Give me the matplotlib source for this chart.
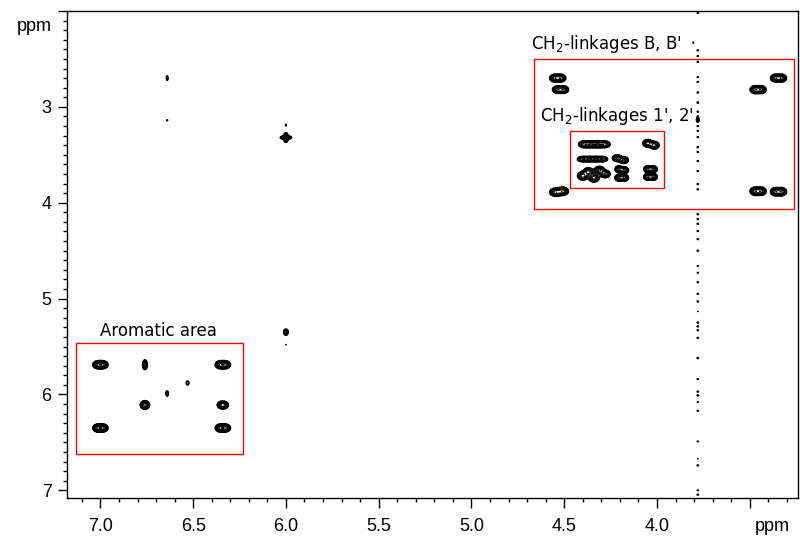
import numpy as np
import matplotlib
matplotlib.use("Agg")
import matplotlib.pyplot as plt
from matplotlib.patches import Rectangle
from matplotlib.ticker import MultipleLocator

# cross peaks: f2 (x) ppm, f1 (y) ppm, widths and heights
peak_x = [
    # aromatic area
    7.012, 6.988, 6.352, 6.328, 6.76, 6.53, 6.64, 6.76, 6.76, 6.347, 6.333,
    7.012, 6.988, 6.352, 6.328,
    # isolated peaks
    6.64, 6.64, 6.00, 6.00, 6.00, 6.00, 6.00, 3.804,
    # CH2-linkages B, B'
    4.55, 4.52, 4.535, 4.505, 3.36, 3.33, 3.47, 3.44,
    4.545, 4.51, 3.47, 3.44, 3.36, 3.33,
    # CH2-linkages 1', 2'
    4.39, 4.355, 4.32, 4.285, 4.05, 4.015,
    4.40, 4.365, 4.33, 4.295, 4.215, 4.18,
    4.40, 4.37, 4.34, 4.31, 4.28,
    4.205, 4.175, 4.205, 4.175, 4.05, 4.02, 4.05, 4.02,
]
peak_y = [
    5.69, 5.69, 5.69, 5.69, 5.69, 5.88, 5.99, 6.11, 6.11, 6.11, 6.11,
    6.35, 6.35, 6.35, 6.35,
    2.70, 3.14, 3.19, 3.32, 3.32, 5.35, 5.48, 2.33,
    2.70, 2.70, 2.82, 2.82, 2.70, 2.70, 2.82, 2.82,
    3.89, 3.88, 3.88, 3.88, 3.885, 3.885,
    3.39, 3.39, 3.39, 3.39, 3.38, 3.40,
    3.545, 3.545, 3.545, 3.545, 3.535, 3.555,
    3.72, 3.68, 3.74, 3.66, 3.70,
    3.65, 3.66, 3.74, 3.74, 3.65, 3.65, 3.73, 3.73,
]
peak_wx = [
    .013, .013, .013, .013, .0065, .0065, .0055, .011, .011, .011, .011,
    .013, .013, .013, .013,
    .0042, .005, .004, .015, .0065, .0066, .004, .003,
    .013, .013, .013, .013, .013, .013, .013, .013,
    .015, .015, .013, .013, .013, .013,
    .016, .016, .016, .016, .013, .013,
    .015, .015, .015, .015, .013, .013,
    .014, .014, .014, .014, .014,
    .011, .011, .011, .011, .011, .011, .011, .011,
]
peak_wy = [
    .019, .019, .019, .019, .025, .018, .020, .020, .020, .018, .018,
    .019, .019, .019, .019,
    .021, .010, .012, .010, .024, .017, .008, .008,
    .019, .019, .018, .018, .019, .019, .019, .019,
    .020, .020, .020, .020, .020, .020,
    .018, .018, .018, .018, .020, .020,
    .015, .015, .015, .015, .018, .018,
    .022, .022, .022, .020, .020,
    .018, .018, .018, .018, .018, .018, .018, .018,
]
peak_h = [
    .8, .8, .8, .8, .5, .12, .15, .45, .45, .6, .6,
    .8, .8, .8, .8,
    .12, .07, .08, .5, .6, .4, .06, .08,
    .7, .7, .7, .7, .7, .7, .7, .7,
    .7, .7, .7, .7, .7, .7,
    .5, .5, .5, .5, .5, .5,
    .4, .4, .4, .4, .45, .45,
    .5, .5, .5, .45, .45,
    .45, .45, .45, .45, .45, .45, .45, .45,
]

# t1 noise streak at 3.78 ppm: f1 position, length, height
streak_x = 3.78
streak_y = [2.02, 2.41, 2.47, 2.53, 2.69, 2.74, 2.85, 2.955, 3.05, 3.10,
            3.135, 3.20, 3.25, 3.315, 3.42, 3.47, 3.565, 3.67, 3.805, 3.86,
            4.12, 4.17, 4.22, 4.295, 4.38, 4.50, 4.66, 4.73, 4.83, 4.95,
            5.03, 5.135, 5.25, 5.29, 5.33, 5.41, 5.62, 5.84, 5.97, 6.01,
            6.08, 6.17, 6.49, 6.67, 6.74, 7.00, 7.045]
streak_wy = [.006, .006, .006, .006, .006, .006, .006, .008, .006, .006,
             .012, .006, .006, .006, .006, .006, .006, .006, .006, .006,
             .006, .006, .006, .006, .006, .006, .005, .005, .006, .006,
             .006, .004, .006, .006, .006, .006, .007, .006, .006, .006,
             .005, .006, .005, .004, .006, .005, .006]
streak_h = [.1, .1, .1, .1, .1, .1, .1, .1, .1, .1,
            .5, .1, .1, .1, .1, .1, .1, .1, .1, .1,
            .1, .1, .1, .1, .1, .1, .09, .09, .1, .1,
            .1, .07, .1, .1, .1, .1, .1, .1, .1, .1,
            .09, .1, .09, .07, .1, .09, .1]

xticks = [7.0, 6.5, 6.0, 5.5, 5.0, 4.5, 4.0, 3.5]
xlabels = ['7.0', '6.5', '6.0', '5.5', '5.0', '4.5', '4.0', '']
yticks = [2, 3, 4, 5, 6, 7]
ylabels = ['', '3', '4', '5', '6', '7']

# build the 2D surface
x = np.linspace(3.2, 7.2, 1600)
y = np.linspace(1.98, 7.1, 1100)
Z = np.zeros((len(y), len(x)))
for px, py, wx, wy, h in zip(peak_x, peak_y, peak_wx, peak_wy, peak_h):
    Z += h * np.outer(np.exp(-0.5 * ((y - py) / wy) ** 2),
                      np.exp(-0.5 * ((x - px) / wx) ** 2))
for py, wy, h in zip(streak_y, streak_wy, streak_h):
    Z += h * np.outer(np.exp(-0.5 * ((y - py) / wy) ** 2),
                      np.exp(-0.5 * ((x - streak_x) / 0.004) ** 2))

levels = 0.05 * 1.35 ** np.arange(11)

fig = plt.figure(figsize=(8, 5.36), dpi=100)
ax = fig.add_axes([67 / 800, 1 - 498 / 536, 731 / 800, 487 / 536])
ax.contour(x, y, Z, levels=levels, colors='black', linewidths=0.7)

ax.set_xlim(7.18, 3.24)
ax.set_ylim(7.08, 2.0)

# boxes and labels
ax.add_patch(Rectangle((6.233, 5.458), 7.13 - 6.233, 6.625 - 5.458,
                       fill=False, edgecolor='red', lw=1))
ax.add_patch(Rectangle((3.26, 2.5), 4.664 - 3.26, 4.07 - 2.5,
                       fill=False, edgecolor='red', lw=1))
ax.add_patch(Rectangle((3.962, 3.256), 4.47 - 3.962, 3.85 - 3.256,
                       fill=False, edgecolor='red', lw=1))
ax.text(7.0, 5.385, 'Aromatic area', fontsize=12, ha='left', va='baseline',
        family='DejaVu Sans')
ax.text(4.68, 2.392, "CH$_2$-linkages B, B'", fontsize=12, ha='left',
        va='baseline', family='DejaVu Sans')
ax.text(4.63, 3.146, "CH$_2$-linkages 1', 2'", fontsize=12, ha='left',
        va='baseline', family='DejaVu Sans')

# axes styling
ax.set_xticks(xticks, xlabels)
ax.set_yticks(yticks, ylabels)
ax.xaxis.set_minor_locator(MultipleLocator(0.1))
ax.yaxis.set_minor_locator(MultipleLocator(0.1))
for lab in ax.get_xticklabels() + ax.get_yticklabels():
    lab.set_family('Liberation Sans')
    lab.set_fontsize(13)
ax.tick_params(axis='x', which='major', length=7.4, width=1, pad=7)
ax.tick_params(axis='x', which='minor', length=2.9, width=1)
ax.tick_params(axis='y', which='major', length=6.5, width=1, pad=4.5)
ax.tick_params(axis='y', which='minor', length=2.9, width=1)
for s in ax.spines.values():
    s.set_linewidth(1)

ax.annotate('ppm', xy=(0, 2.16), xycoords=('axes fraction', 'data'),
            xytext=(-11, 0), textcoords='offset points', ha='right',
            va='center', fontsize=13, family='Liberation Sans')
ax.annotate('ppm', xy=(3.38, 0), xycoords=('data', 'axes fraction'),
            xytext=(0, -14.4), textcoords='offset points', ha='center',
            va='top', fontsize=13, family='Liberation Sans')

plt.savefig('out.png', dpi=100)
